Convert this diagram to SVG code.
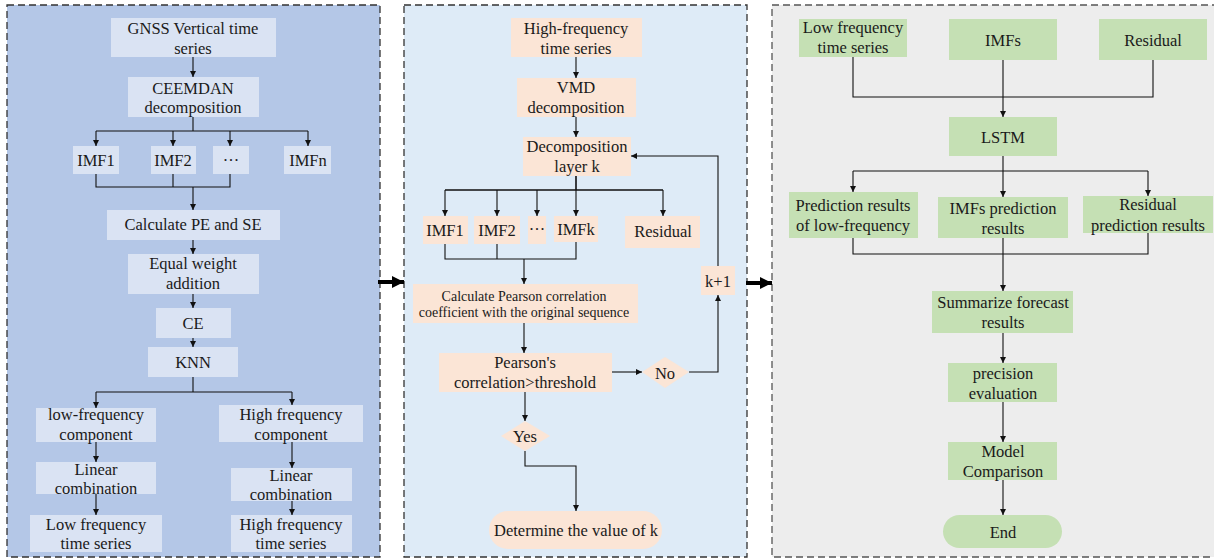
<svg xmlns="http://www.w3.org/2000/svg" width="1214" height="560" viewBox="0 0 1214 560">
<defs>
<marker id="ah" markerWidth="6" markerHeight="6" refX="6" refY="3" orient="auto" markerUnits="userSpaceOnUse">
<path d="M0,0 L6,3 L0,6 Z" fill="#111"/>
</marker>
<marker id="big" markerWidth="12" markerHeight="12" refX="12" refY="6" orient="auto" markerUnits="userSpaceOnUse">
<path d="M0,0 L12,6 L0,12 Z" fill="#000"/>
</marker>
<style>
.t{font-family:'Liberation Serif','Times New Roman',serif;font-size:16.5px;fill:#1a1a1a;text-anchor:middle;dominant-baseline:central}
.s{font-size:14px}
.b{fill:#dae3f3}
.o{fill:#fbe5d6}
.g{fill:#c5e0b4}
.c{fill:none;stroke:#111;stroke-width:1.1}
.a{marker-end:url(#ah)}
.panel{stroke-width:1.3;stroke-dasharray:7 4}
</style>
</defs>

<g id="panels">
<rect x="7" y="5" width="373" height="552" fill="#b4c7e7" class="panel" stroke="#333"/>
<rect x="404" y="5" width="343" height="552" fill="#deebf7" class="panel" stroke="#333"/>
<rect x="772" y="5" width="460" height="552" fill="#ededed" class="panel" stroke="#555"/>
</g>

<g id="connectors">
<!-- left panel -->
<path class="c a" d="M193,57 V77"/>
<path class="c" d="M193,117 V131 M96,131 H308"/>
<path class="c a" d="M96,131 V146"/>
<path class="c a" d="M173,131 V146"/>
<path class="c a" d="M230,131 V146"/>
<path class="c a" d="M308,131 V146"/>
<path class="c" d="M96,174 V187 H230 V174 M173,174 V187"/>
<path class="c a" d="M193,187 V210"/>
<path class="c a" d="M193,240 V254"/>
<path class="c a" d="M193,294 V308"/>
<path class="c a" d="M193,338 V347"/>
<path class="c" d="M193,377 V392 M96,392 H292"/>
<path class="c a" d="M96,392 V408"/>
<path class="c a" d="M292,392 V405"/>
<path class="c a" d="M96,442 V462"/>
<path class="c a" d="M292,442 V468"/>
<path class="c a" d="M96,494 V515"/>
<path class="c a" d="M292,501 V515"/>
<!-- between panels -->
<path d="M378,282 H404" stroke="#000" stroke-width="4" marker-end="url(#big)" fill="none"/>
<path d="M746,283 H772" stroke="#000" stroke-width="4" marker-end="url(#big)" fill="none"/>
<!-- middle panel -->
<path class="c a" d="M576,57 V78"/>
<path class="c a" d="M576,117 V137"/>
<path class="c" d="M576,176 V190 M445,190 H663" style="stroke-width:1.6"/>
<path class="c a" d="M445,190 V216"/>
<path class="c a" d="M497,190 V216"/>
<path class="c a" d="M537,190 V216"/>
<path class="c a" d="M576,190 V216"/>
<path class="c a" d="M663,190 V216"/>
<path class="c" d="M445,244 V259 H576 V242 M497,244 V259"/>
<path class="c a" d="M524,259 V284"/>
<path class="c a" d="M524,323 V353"/>
<path class="c a" d="M612,372 H642"/>
<path class="c a" d="M689,372 H718 V295"/>
<path class="c a" d="M718,266 V156 H631"/>
<path class="c a" d="M525,392 V421"/>
<path class="c a" d="M525,451 V466 H576 V511"/>
<!-- right panel -->
<path class="c" d="M853,57 V97 H1153 V60 M1003,60 V97"/>
<path class="c a" d="M1003,97 V117"/>
<path class="c" d="M1003,156 V171 M853,171 H1148"/>
<path class="c a" d="M853,171 V192"/>
<path class="c a" d="M1003,171 V197"/>
<path class="c a" d="M1148,171 V196"/>
<path class="c" d="M853,238 V254 H1148 V233 M1003,238 V254"/>
<path class="c a" d="M1003,254 V291"/>
<path class="c a" d="M1003,333 V363"/>
<path class="c a" d="M1003,402 V442"/>
<path class="c a" d="M1003,480 V515"/>
</g>

<!-- left panel nodes -->
<g id="gnss"><rect class="b" x="111" y="18" width="165" height="39"/><text class="t" x="193" y="28">GNSS Vertical time</text><text class="t" x="193" y="48">series</text></g>
<g id="ceemdan"><rect class="b" x="128" y="77" width="131" height="40"/><text class="t" x="193" y="88">CEEMDAN</text><text class="t" x="193" y="107">decomposition</text></g>
<g id="l-imf1"><rect class="b" x="73" y="146" width="46" height="28"/><text class="t" x="96" y="160">IMF1</text></g>
<g id="l-imf2"><rect class="b" x="151" y="146" width="45" height="28"/><text class="t" x="173" y="160">IMF2</text></g>
<g id="l-dots"><rect class="b" x="213" y="146" width="36" height="28"/><text class="t" x="231" y="160">···</text></g>
<g id="l-imfn"><rect class="b" x="284" y="146" width="47" height="28"/><text class="t" x="308" y="160">IMFn</text></g>
<g id="pe-se"><rect class="b" x="107" y="210" width="173" height="30"/><text class="t" x="193" y="224">Calculate PE and SE</text></g>
<g id="equal"><rect class="b" x="128" y="254" width="131" height="40"/><text class="t" x="193" y="263">Equal weight</text><text class="t" x="193" y="283">addition</text></g>
<g id="ce"><rect class="b" x="156" y="308" width="75" height="30"/><text class="t" x="193" y="323">CE</text></g>
<g id="knn"><rect class="b" x="148" y="347" width="90" height="30"/><text class="t" x="193" y="362">KNN</text></g>
<g id="low-comp"><rect class="b" x="36" y="408" width="120" height="34"/><text class="t" x="96" y="414">low-frequency</text><text class="t" x="96" y="434">component</text></g>
<g id="high-comp"><rect class="b" x="219" y="405" width="144" height="37"/><text class="t" x="291" y="414">High frequency</text><text class="t" x="291" y="434">component</text></g>
<g id="lin-left"><rect class="b" x="36" y="462" width="120" height="32"/><text class="t" x="96" y="469">Linear</text><text class="t" x="96" y="488">combination</text></g>
<g id="lin-right"><rect class="b" x="231" y="468" width="121" height="33"/><text class="t" x="291" y="475">Linear</text><text class="t" x="291" y="494">combination</text></g>
<g id="low-ts"><rect class="b" x="30" y="515" width="132" height="37"/><text class="t" x="96" y="524">Low frequency</text><text class="t" x="96" y="543">time series</text></g>
<g id="high-ts"><rect class="b" x="231" y="515" width="121" height="37"/><text class="t" x="291" y="524">High frequency</text><text class="t" x="291" y="543">time series</text></g>

<!-- middle panel nodes -->
<g id="hf-ts"><rect class="o" x="511" y="18" width="131" height="39"/><text class="t" x="576" y="28">High-frequency</text><text class="t" x="576" y="48">time series</text></g>
<g id="vmd"><rect class="o" x="517" y="78" width="119" height="39"/><text class="t" x="576" y="87">VMD</text><text class="t" x="576" y="107">decomposition</text></g>
<g id="layer-k"><rect class="o" x="523" y="137" width="108" height="39"/><text class="t" x="577" y="146">Decomposition</text><text class="t" x="577" y="166">layer k</text></g>
<g id="m-imf1"><rect class="o" x="423" y="216" width="45" height="28"/><text class="t" x="445" y="230">IMF1</text></g>
<g id="m-imf2"><rect class="o" x="474" y="216" width="46" height="28"/><text class="t" x="497" y="230">IMF2</text></g>
<g id="m-dots"><rect class="o" x="528" y="216" width="18" height="28"/><text class="t" x="537" y="229">···</text></g>
<g id="m-imfk"><rect class="o" x="554" y="216" width="44" height="26"/><text class="t" x="576" y="229">IMFk</text></g>
<g id="m-resid"><rect class="o" x="625" y="216" width="75" height="32"/><text class="t" x="663" y="231">Residual</text></g>
<g id="pearson-calc"><rect class="o" x="413" y="284" width="225" height="39"/><text class="t s" x="524" y="296">Calculate Pearson correlation</text><text class="t s" x="524" y="312">coefficient with the original sequence</text></g>
<g id="pearson-cond"><rect class="o" x="439" y="353" width="173" height="39"/><text class="t" x="525" y="362">Pearson's</text><text class="t" x="525" y="382">correlation&gt;threshold</text></g>
<g id="no"><polygon class="o" points="642,372 665,357 689,372 665,388"/><text class="t" x="665" y="373">No</text></g>
<g id="k1"><rect class="o" x="701" y="266" width="34" height="29"/><text class="t" x="718" y="281">k+1</text></g>
<g id="yes"><polygon class="o" points="501,436 525,421 550,436 525,451"/><text class="t" x="525" y="436">Yes</text></g>
<g id="determine"><rect class="o" x="489" y="511" width="173" height="38" rx="19"/><text class="t" x="576" y="530">Determine the value of k</text></g>

<!-- right panel nodes -->
<g id="r-low"><rect class="g" x="799" y="19" width="108" height="38"/><text class="t" x="853" y="27">Low frequency</text><text class="t" x="853" y="47">time series</text></g>
<g id="r-imfs"><rect class="g" x="949" y="19" width="108" height="41"/><text class="t" x="1003" y="40">IMFs</text></g>
<g id="r-resid"><rect class="g" x="1099" y="19" width="108" height="41"/><text class="t" x="1153" y="40">Residual</text></g>
<g id="lstm"><rect class="g" x="949" y="117" width="108" height="39"/><text class="t" x="1003" y="137">LSTM</text></g>
<g id="pred-low"><rect class="g" x="789" y="192" width="129" height="46"/><text class="t" x="853" y="205">Prediction results</text><text class="t" x="853" y="225">of low-frequency</text></g>
<g id="pred-imfs"><rect class="g" x="938" y="197" width="130" height="41"/><text class="t" x="1003" y="208">IMFs prediction</text><text class="t" x="1003" y="228">results</text></g>
<g id="pred-resid"><rect class="g" x="1083" y="196" width="130" height="37"/><text class="t" x="1148" y="204">Residual</text><text class="t" x="1148" y="225">prediction results</text></g>
<g id="summ"><rect class="g" x="932" y="291" width="141" height="42"/><text class="t" x="1003" y="302">Summarize forecast</text><text class="t" x="1003" y="322">results</text></g>
<g id="prec"><rect class="g" x="948" y="363" width="109" height="39"/><text class="t" x="1003" y="373">precision</text><text class="t" x="1003" y="393">evaluation</text></g>
<g id="model"><rect class="g" x="948" y="442" width="109" height="38"/><text class="t" x="1003" y="451">Model</text><text class="t" x="1003" y="471">Comparison</text></g>
<g id="end"><rect class="g" x="943" y="515" width="119" height="33" rx="16.5"/><text class="t" x="1003" y="532">End</text></g>
</svg>
